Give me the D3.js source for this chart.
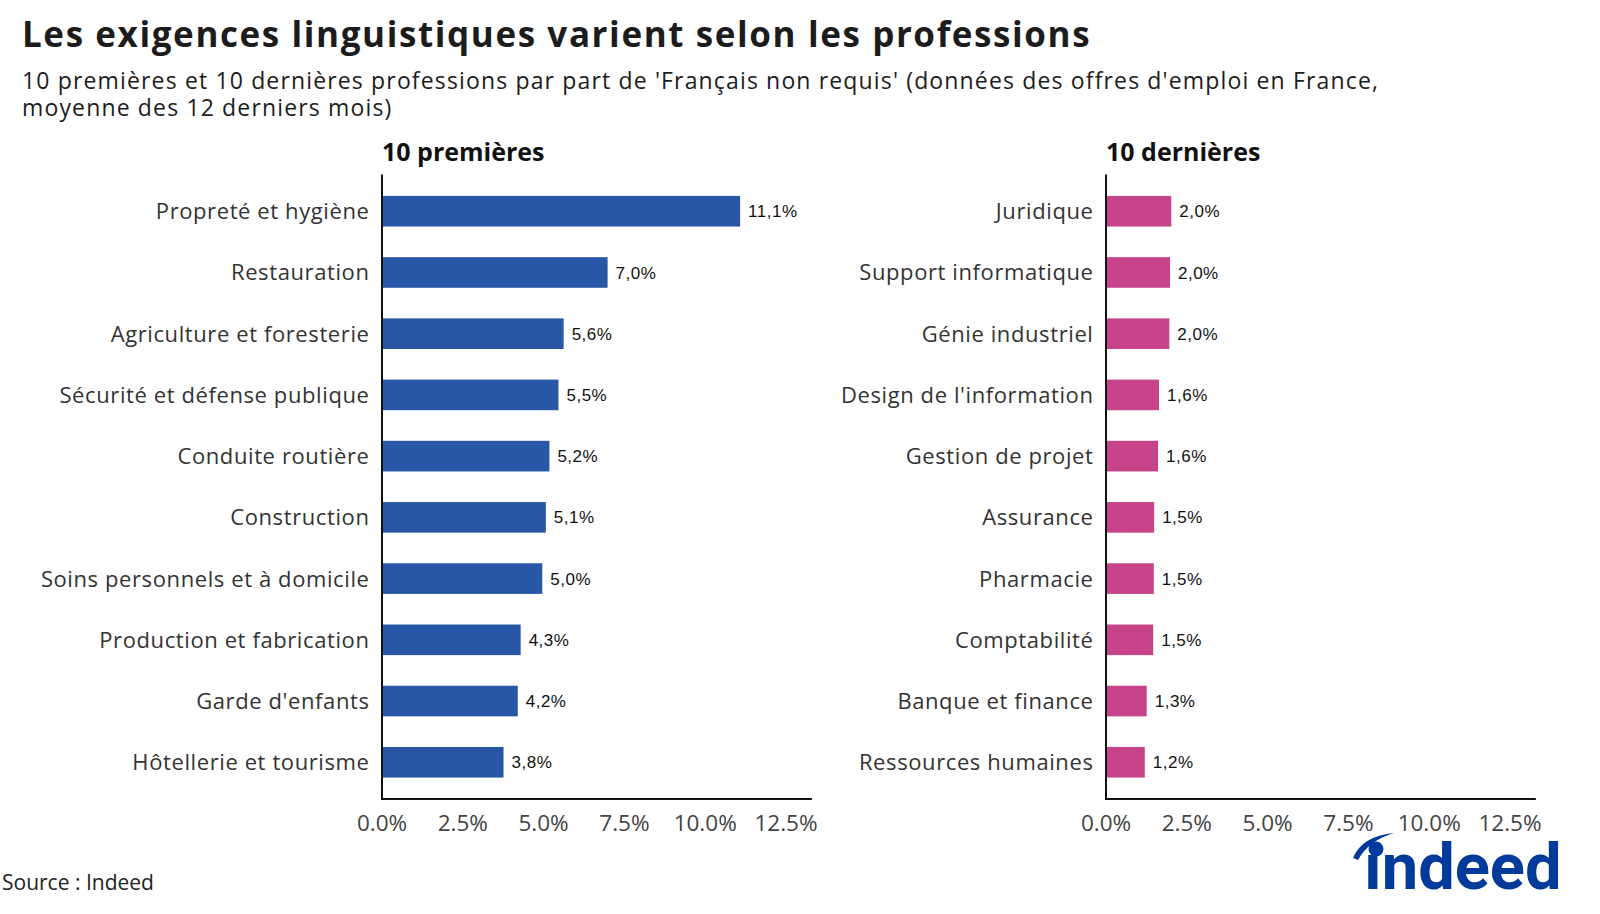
<!DOCTYPE html>
<html>
<head>
<meta charset="utf-8">
<script src="https://cdn.jsdelivr.net/npm/d3@7"></script>
<style>
  body { margin: 0; background: #fff; }
  svg { display: block; font-family: "Open Sans", sans-serif; }
</style>
</head>
<body>
<svg id="chart" width="1600" height="914"></svg>
<script>
// ----- DATA -----
var topJobs = ["Propreté et hygiène", "Restauration", "Agriculture et foresterie", "Sécurité et défense publique",
    "Conduite routière", "Construction", "Soins personnels et à domicile", "Production et fabrication",
    "Garde d'enfants", "Hôtellerie et tourisme"];
var topValues = [11.08, 6.98, 5.62, 5.46, 5.18, 5.07, 4.96, 4.29, 4.2, 3.76];

var bottomJobs = ["Juridique", "Support informatique", "Génie industriel", "Design de l'information",
    "Gestion de projet", "Assurance", "Pharmacie", "Comptabilité", "Banque et finance", "Ressources humaines"];
var bottomValues = [2.02, 1.98, 1.96, 1.64, 1.61, 1.49, 1.48, 1.46, 1.26, 1.2];

var xTicks = [0, 2.5, 5, 7.5, 10, 12.5];

var svg = d3.select("#chart");

// ----- TITLES -----
svg.append("text")
    .attr("x", 22).attr("y", 47)
    .style("font-size", "35px").style("font-weight", 700).style("fill", "#1c1c1c")
    .style("letter-spacing", "1.6px")
    .text("Les exigences linguistiques varient selon les professions");

var subLines = ["10 premières et 10 dernières professions par part de 'Français non requis' (données des offres d'emploi en France,",
    "moyenne des 12 derniers mois)"];
svg.selectAll("text.sub").data(subLines).enter().append("text")
    .attr("class", "sub")
    .attr("x", 22).attr("y", function(d, i) { return 89 + i * 27; })
    .style("font-size", "23px").style("fill", "#1c1c1c")
    .style("letter-spacing", "1.15px")
    .text(function(d) { return d; });

// ----- PANELS -----
var y0 = 174.5, y1 = 799;

function panel(x0, title, jobs, values, color) {
    var x = d3.scaleLinear().domain([0, 12.5]).range([x0, x0 + 404]);
    var xEnd = x(13.3);
    var y = d3.scaleBand().domain(jobs).range([y0, y1]).paddingInner(0.5).paddingOuter(0.35);
    var g = svg.append("g");

    g.append("text")
        .attr("x", x0).attr("y", 161)
        .style("font-size", "25px").style("font-weight", 700).style("fill", "#111")
        .text(title);

    g.selectAll("rect.bar").data(values).enter().append("rect")
        .attr("class", "bar")
        .attr("x", x(0))
        .attr("y", function(d, i) { return y(jobs[i]); })
        .attr("width", function(d) { return x(d) - x(0); })
        .attr("height", y.bandwidth())
        .style("fill", color);

    g.selectAll("text.val").data(values).enter().append("text")
        .attr("class", "val")
        .attr("x", function(d) { return x(d) + 8; })
        .attr("y", function(d, i) { return y(jobs[i]) + y.bandwidth() / 2; })
        .attr("dy", "0.36em")
        .style("font-family", "'Liberation Sans', Arial, sans-serif")
        .style("font-size", "17px").style("fill", "#111")
        .style("letter-spacing", "0.5px")
        .text(function(d) { return d.toFixed(1).replace(".", ",") + "%"; });

    g.selectAll("text.cat").data(jobs).enter().append("text")
        .attr("class", "cat")
        .attr("x", x0 - 12.5)
        .attr("y", function(d) { return y(d) + y.bandwidth() / 2; })
        .attr("dy", "0.36em")
        .attr("text-anchor", "end")
        .style("font-size", "22px").style("fill", "#333")
        .style("letter-spacing", "0.6px")
        .text(function(d) { return d; });

    // axis lines
    g.append("line").attr("x1", x0).attr("x2", x0).attr("y1", y0).attr("y2", y1)
        .style("stroke", "#111").style("stroke-width", 2);
    g.append("line").attr("x1", x0 - 1).attr("x2", xEnd).attr("y1", y1).attr("y2", y1)
        .style("stroke", "#111").style("stroke-width", 2);

    g.selectAll("text.tick").data(xTicks).enter().append("text")
        .attr("class", "tick")
        .attr("x", function(d) { return x(d); })
        .attr("y", 831)
        .attr("text-anchor", "middle")
        .style("font-size", "22.5px").style("fill", "#444")
        .text(function(d) { return d3.format(".1f")(d) + "%"; });
}

panel(382, "10 premières", topJobs, topValues, "#2757a6");
panel(1106, "10 dernières", bottomJobs, bottomValues, "#c8448a");

// ----- FOOTER -----
svg.append("text")
    .attr("x", 2).attr("y", 890)
    .style("font-size", "21px").style("fill", "#222")
    .text("Source : Indeed");

// indeed logo
var logoBlue = "#003a9b";
svg.append("text")
    .attr("x", 1364).attr("y", 889)
    .style("font-family", "Roboto, sans-serif")
    .style("font-size", "65px").style("font-weight", 700)
    .style("fill", logoBlue)
    .text("\u0131ndeed");
svg.append("circle").attr("cx", 1376).attr("cy", 849).attr("r", 7.5).style("fill", logoBlue);
svg.append("path")
    .attr("d", "M 1353 858 Q 1362 836 1394 833 Q 1368 841 1358 860 Z")
    .style("fill", logoBlue);
</script>
</body>
</html>
